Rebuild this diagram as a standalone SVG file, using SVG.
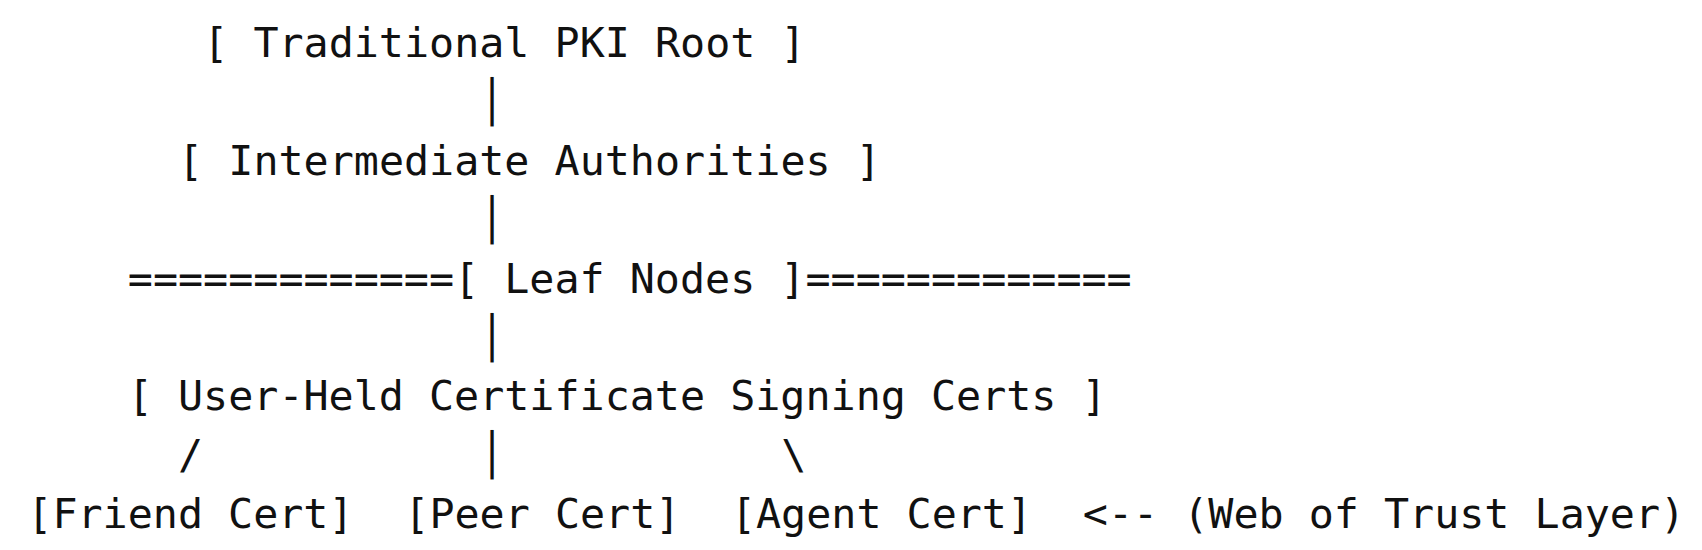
<svg xmlns="http://www.w3.org/2000/svg" width="1702" height="550" viewBox="0 0 1702 550">
<style>
text{font-family:"DejaVu Sans Mono","Liberation Mono",monospace;font-size:41.7px;fill:#111;white-space:pre}
</style>
<rect width="1702" height="550" fill="#fff"/>
<g id="root"><text x="203.2" y="57">[ Traditional PKI Root ]</text></g>
<g id="intermediate"><text x="178.1" y="174.8">[ Intermediate Authorities ]</text></g>
<g id="leaf"><text x="127.8" y="292.6">=============[ Leaf Nodes ]=============</text></g>
<g id="user"><text x="127.8" y="410.4">[ User-Held Certificate Signing Certs ]</text></g>
<g id="friend"><text x="27.3" y="528.2">[Friend Cert]</text></g>
<g id="peer"><text x="404.3" y="528.2">[Peer Cert]</text></g>
<g id="agent"><text x="730.9" y="528.2">[Agent Cert]</text></g>
<g id="label"><text x="1082.8" y="528.2">&lt;-- (Web of Trust Layer)</text></g>
<g id="connectors">
<text x="479.6" y="115.9">│</text>
<text x="479.6" y="233.7">│</text>
<text x="479.6" y="351.5">│</text>
<text x="178.1" y="469.3">/</text>
<text x="479.6" y="469.3">│</text>
<text x="781.2" y="469.3">\</text>
</g>
</svg>
